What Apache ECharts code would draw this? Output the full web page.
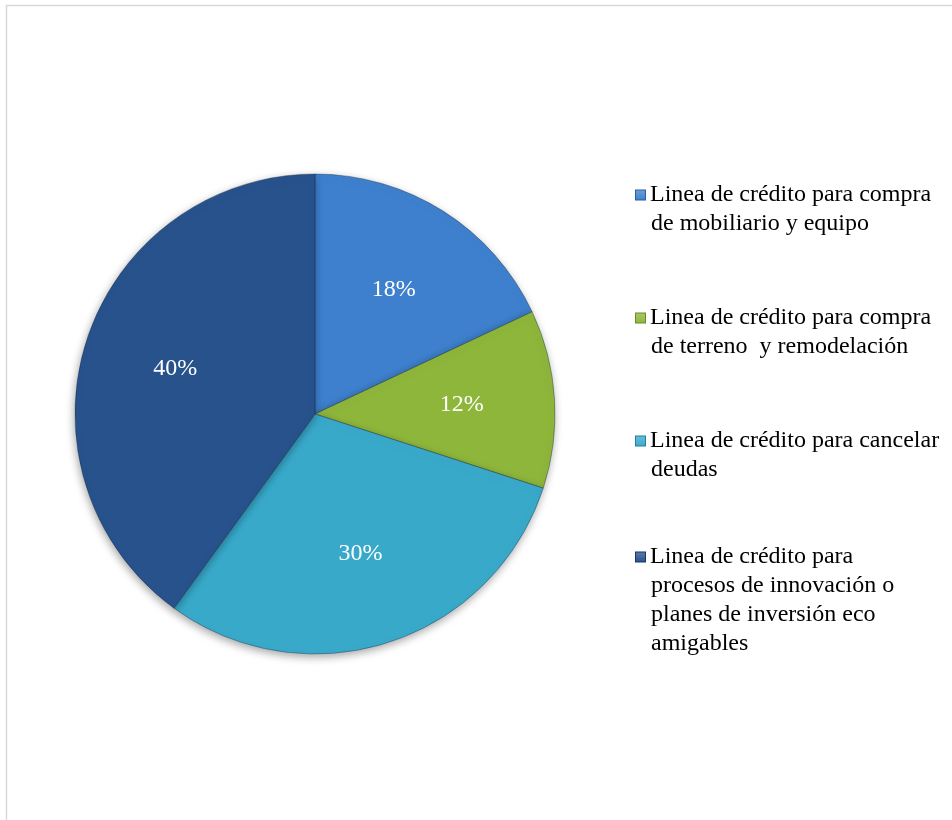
<!DOCTYPE html>
<html>
<head>
<meta charset="utf-8">
<script src="https://cdn.jsdelivr.net/npm/echarts@6/dist/echarts.min.js"></script>
<style>
  html, body { margin: 0; padding: 0; background: #ffffff; }
  #chart { width: 952px; height: 820px; }
</style>
</head>
<body>
<div id="chart"></div>
<script>
// Credit line categories (legend text, with its line breaks)
const categories = [
  'Linea de crédito para compra\nde mobiliario y equipo',
  'Linea de crédito para compra\nde terreno  y remodelación',
  'Linea de crédito para cancelar\ndeudas',
  'Linea de crédito para\nprocesos de innovación o\nplanes de inversión eco\namigables'
];
// Share of each credit line, in percent
const shares = [18, 12, 30, 40];
// Slice colours
const sliceColors = ['#3e80cd', '#8eb63b', '#39a9ca', '#27528c'];
const edgeColors = ['#2a5f9e', '#6a8c25', '#257f9a', '#163862'];

const chart = echarts.init(document.getElementById('chart'), null, { renderer: 'canvas' });

const serif = '"Liberation Serif", "Times New Roman", "DejaVu Serif", serif';
const total = shares.reduce((a, b) => a + b, 0);

// Push each percentage label a little further out along its slice's bisector
const labelPush = 24;
let running = 0;
const pieData = shares.map((v, i) => {
  const mid = (running + v / 2) / total * 2 * Math.PI;
  running += v;
  return {
    name: categories[i],
    value: v,
    itemStyle: { color: sliceColors[i] },
    label: { offset: [labelPush * Math.sin(mid), -labelPush * Math.cos(mid)] }
  };
});

// Rich-text legend: square marker on the first line, continuation lines indented
const rich = {
  t: { fontSize: 24, fontFamily: serif, color: '#000000', lineHeight: 29, verticalAlign: 'middle' },
  g: { width: 5, height: 10, lineHeight: 29, verticalAlign: 'middle' },
  s: { width: 15, height: 10, lineHeight: 29, verticalAlign: 'middle' }
};
sliceColors.forEach((c, i) => {
  rich['m' + i] = {
    width: 9, height: 9, lineHeight: 29, verticalAlign: 'middle',
    backgroundColor: new echarts.graphic.LinearGradient(0, 0, 0, 1, [
      { offset: 0, color: echarts.color.lift(c, 0.25) },
      { offset: 1, color: c }
    ]),
    borderColor: edgeColors[i], borderWidth: 1
  };
});
function legendLabel(name) {
  const idx = categories.indexOf(name);
  const lines = name.split('\n');
  return lines.map((ln, k) => k === 0
    ? '{m' + idx + '|}{g|}{t|' + ln + '}'
    : '{s|}{t|' + ln + '}').join('\n');
}
const legendBase = {
  orient: 'vertical',
  left: 630,
  padding: 0,
  icon: 'none',
  itemWidth: 1,
  itemHeight: 14,
  selectedMode: false,
  formatter: legendLabel,
  textStyle: { rich: rich }
};

chart.setOption({
  backgroundColor: '#ffffff',
  animation: false,
  graphic: [{
    type: 'rect',
    shape: { x: 6.5, y: 5.5, width: 1200, height: 1200 },
    style: { fill: 'none', stroke: '#d9d9d9', lineWidth: 1.5 },
    silent: true
  }],
  legend: [
    Object.assign({}, legendBase, { top: 183, itemGap: 70, data: categories.slice(0, 3) }),
    Object.assign({}, legendBase, { top: 545, data: categories.slice(3) })
  ],
  series: [{
    type: 'pie',
    center: [315, 414],
    radius: 240,
    startAngle: 90,
    clockwise: true,
    avoidLabelOverlap: false,
    data: pieData,
    itemStyle: {
      borderColor: 'rgba(15,35,60,0.45)',
      borderWidth: 0.8,
      shadowBlur: 8,
      shadowColor: 'rgba(0,0,0,0.35)',
      shadowOffsetX: -1,
      shadowOffsetY: 3
    },
    label: {
      show: true,
      position: 'inside',
      formatter: '{c}%',
      color: '#ffffff',
      fontSize: 24,
      fontFamily: serif
    },
    labelLine: { show: false },
    emphasis: { disabled: true }
  }]
});
</script>
</body>
</html>
